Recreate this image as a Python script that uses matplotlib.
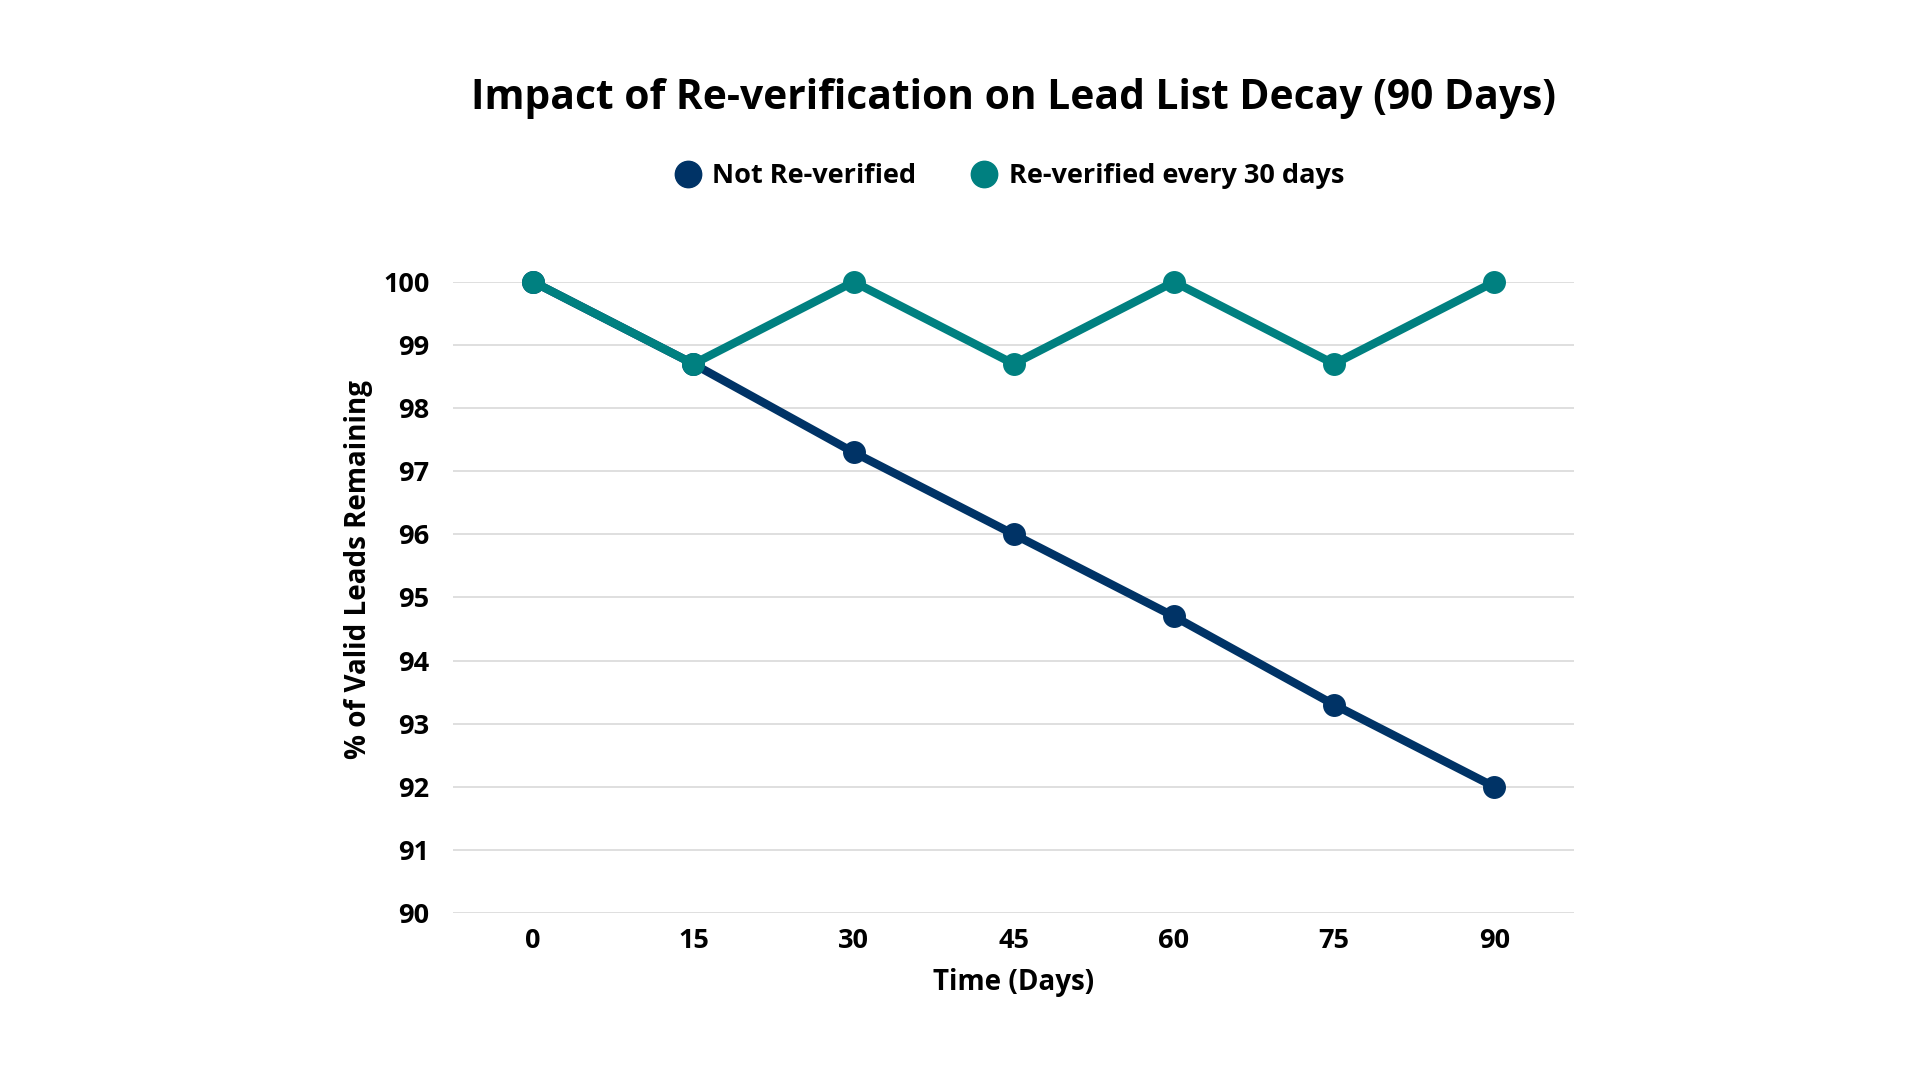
import matplotlib
matplotlib.use("Agg")
from matplotlib import pyplot as plt
from matplotlib.lines import Line2D

plt.rcParams['font.family'] = ['Open Sans', 'DejaVu Sans']
plt.rcParams['font.weight'] = 'bold'

days = [0, 15, 30, 45, 60, 75, 90]
not_reverified = [100, 98.7, 97.3, 96.0, 94.7, 93.3, 92.0]
reverified = [100, 98.7, 100, 98.7, 100, 98.7, 100]
y_ticks = [90, 91, 92, 93, 94, 95, 96, 97, 98, 99, 100]

navy = '#003366'
teal = '#008080'

fig = plt.figure(figsize=(19.2, 10.8), dpi=100)
ax = fig.add_axes([0.236, 0.1546, 0.584, 0.5844])

ax.plot(days, not_reverified, color=navy, lw=6, marker='o', ms=15.5, clip_on=False, zorder=3)
ax.plot(days, reverified, color=teal, lw=6, marker='o', ms=15.5, clip_on=False, zorder=4)

ax.set_xlim(-7.5, 97.5)
ax.set_ylim(90, 100)
ax.set_xticks(days)
ax.set_yticks(y_ticks)
ax.tick_params(axis='both', length=0, labelsize=19.5)
ax.tick_params(axis='x', pad=11)
ax.tick_params(axis='y', pad=17)
for lbl in ax.get_xticklabels() + ax.get_yticklabels():
    lbl.set_fontweight('bold')

ax.grid(axis='y', color='#d9d9d9', lw=1.2)
ax.set_axisbelow(True)
for s in ax.spines.values():
    s.set_visible(False)

ax.set_xlabel('Time (Days)', fontsize=20, fontweight='bold', labelpad=10)
ax.set_ylabel('% of Valid Leads Remaining', fontsize=20, fontweight='bold', labelpad=7)
ax.yaxis.label.set_y(0.545)

fig.text(0.528, 0.909, 'Impact of Re-verification on Lead List Decay (90 Days)',
         ha='center', va='center', fontsize=29.3, fontweight='bold')

handles = [Line2D([], [], color=navy, marker='o', ls='none', ms=19),
           Line2D([], [], color=teal, marker='o', ls='none', ms=19)]
fig.legend(handles, ['Not Re-verified', 'Re-verified every 30 days'],
           loc='center', bbox_to_anchor=(0.5235, 0.837), ncol=2, frameon=False,
           prop={'size': 19.5, 'weight': 'bold'}, handletextpad=0.1,
           handlelength=1.6, columnspacing=1.7)

fig.savefig('out.png', dpi=100, facecolor='white')
